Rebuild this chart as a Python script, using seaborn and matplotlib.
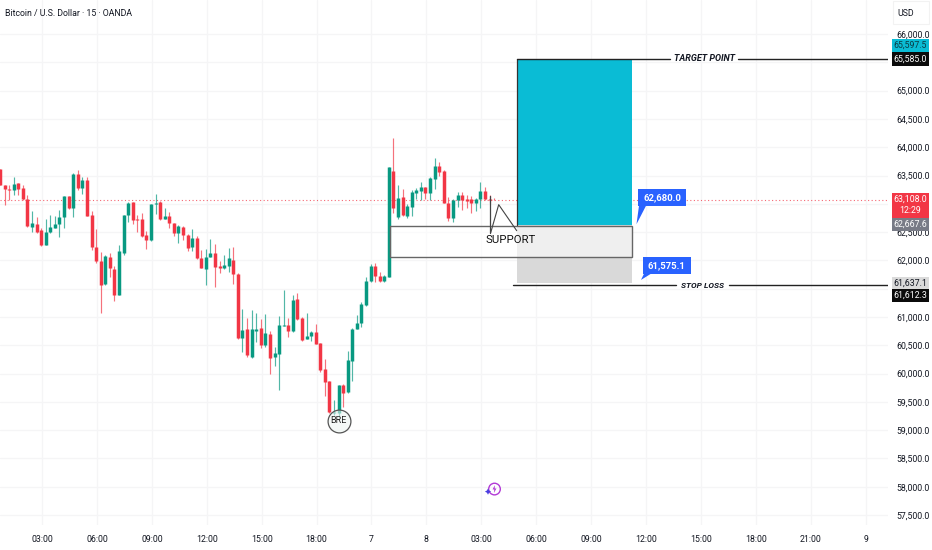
import numpy as np
import pandas as pd
import matplotlib
matplotlib.use("Agg")
import matplotlib.pyplot as plt
from matplotlib.patches import Rectangle, Polygon
import seaborn as sns

opens = [63609,63332,63261,63244,63361,63273,63079,62596,62643,62537,62272,62502,62578,62643,62773,63144,62920,63526,63273,63420,62796,62231,61995,61577,62066,61848,61394,62137,62796,63032,62731,62737,62443,62360,63002,63038,62731,62784,62655,62484,62596,62449,62231,62402,62042,61854,62054,62137,61901,61866,61901,62007,61760,
60635,60782,60299,60758,60799,60505,60699,60299,60340,60847,60858,60752,61324,60982,60611,60664,60735,60534,60075,59863,59310,59310,59804,59675,60228,60788,60888,61212,61630,61901,61724,61642,
61713,63586,62761,63114,62785,62950,63197,63232,63291,63197,63438,63668,63586,63020,62755,63067,63162,63079,63079,63008,63079,63232,63091,63091]
highs = [63609,63332,63332,63467,63373,63332,63155,62873,62761,62566,62731,62802,62784,62890,63138,63144,63550,63597,63479,63467,62879,62555,62154,62095,62125,61901,62272,62802,63032,63032,62802,62831,62525,62996,63173,63049,62920,62861,62667,62619,62608,62466,62549,62431,62184,62195,62372,62290,61995,62089,62225,62243,61771,
61135,60976,61123,61064,60958,61047,60758,60464,61017,61477,60976,61388,61430,60994,61064,60758,60876,60546,60252,59875,59533,59792,59816,60399,60799,61035,61271,61712,61936,61948,61801,61742,
63656,64157,63332,63256,62997,63244,63273,63391,63303,63468,63803,63745,63597,63126,63079,63215,63215,63156,63138,63097,63391,63303,63156,63108]
lows = [63332,62979,63067,63155,63155,63067,62596,62508,62490,62254,62272,62490,62566,62407,62566,62908,62761,63244,63173,62784,62184,61960,61065,61565,61713,61289,61389,62095,62684,62637,62508,62419,62207,62349,62820,62714,62725,62566,62431,62301,62360,62172,62166,62019,61860,61565,62054,61524,61783,61854,61801,61583,60611,
60387,60287,60281,60564,60458,60464,59993,60134,59710,60841,60640,60741,60947,60581,60611,60581,60517,60034,59604,59298,59268,59239,59416,59663,59875,60782,60829,61200,61624,61624,61624,61624,
61713,62844,62726,62785,62755,62785,63079,63067,63079,63067,63256,63491,63008,62702,62673,62938,62891,62920,62844,62879,62920,63067,63008,63067]
closes = [63332,63261,63244,63350,63261,63079,62608,62655,62508,62272,62508,62584,62643,62761,63138,62920,63526,63273,63420,62784,62231,61995,61565,62084,61860,61389,62166,62796,63020,62714,62720,62431,62360,62990,63020,62725,62778,62655,62484,62608,62449,62213,62390,62036,61866,62066,62125,61889,61866,61913,62036,61754,60623,
60770,60328,60788,60794,60505,60711,60275,60358,60858,60864,60752,61300,60958,60593,60670,60735,60523,60063,59845,59315,59327,59792,59663,60240,60788,60888,61229,61630,61901,61724,61642,61724,
63656,62920,63097,62802,62961,63203,63244,63291,63197,63462,63668,63568,63020,62743,63067,63162,63067,63056,63020,63079,63232,63079,63073,63079]

x_tick_pos = [9.2 + 12 * k for k in range(16)]
x_tick_labels = ["03:00","06:00","09:00","12:00","15:00","18:00","7","8","03:00","06:00","09:00","12:00","15:00","18:00","21:00","9"]
y_ticks = [57500 + 500 * k for k in range(18)]
y_hidden = [61500, 63000, 65500]   # covered by price tags in the reference

target_price, entry_price, stop_fill, stop_price = 65560, 62625, 61601, 61565
support_top, support_bottom = 62613, 62065
last_line = 63070

UP, DOWN = "#089981", "#F23645"
FONT = ["Roboto", "DejaVu Sans"]

sns.set_theme(style="white")
plt.rcParams["font.family"] = FONT

n = len(opens)
idx = np.arange(n)
o, h, l, c = map(np.array, (opens, highs, lows, closes))
direction = np.where(c >= o, "up", "down")
wicks = pd.DataFrame({"i": np.tile(idx, 2), "p": np.r_[l, h], "d": np.tile(direction, 2)})
bodies = pd.DataFrame({"i": np.tile(idx, 2), "p": np.r_[o, c], "d": np.tile(direction, 2)})
palette = {"up": UP, "down": DOWN}

W, H = 932, 550
fig = plt.figure(figsize=(W / 100, H / 100), dpi=100, facecolor="white")
ax = fig.add_axes([0, 25 / H, 888 / W, 525 / H], facecolor="white")

for frame, lw, alpha in ((wicks, 0.85, 0.7), (bodies, 2.5, 1.0)):
    sns.lineplot(data=frame, x="i", y="p", hue="d", units="i", estimator=None, palette=palette,
                 linewidth=lw, alpha=alpha, legend=False, ax=ax, sort=False,
                 solid_capstyle="butt", zorder=3)

PX = 4.575               # pixels per bar
ax.set_xlim(0, 888 / PX)
ax.set_ylim(57325, 66601)
ax.set_xlabel("")
ax.set_ylabel("")
ax.set_xticks(x_tick_pos, x_tick_labels)
ax.set_yticks(y_ticks, ["" if v in y_hidden else f"{v:,.1f}" for v in y_ticks])
ax.yaxis.tick_right()
ax.tick_params(axis="x", length=0, pad=7.5, labelsize=6.3, colors="#131722")
ax.tick_params(axis="y", length=0, pad=5.8, labelsize=6.3, colors="#131722")
ax.grid(True, color="#f5f5f6", linewidth=0.9, zorder=0)
ax.set_axisbelow(True)
for s in ax.spines.values():
    s.set_visible(False)

def bx(px):
    return px / PX

ax.plot([0, 888 / PX], [last_line, last_line], color="#F23645", lw=0.8, ls=(0, (1, 2.2)), alpha=.75, zorder=2)

# position block
ax.add_patch(Rectangle((bx(517), entry_price), bx(115), target_price - entry_price, fc="#0ABCD5", ec="none", zorder=4))
ax.add_patch(Rectangle((bx(517), stop_fill), bx(115), entry_price - stop_fill, fc="#D9D9D9", ec="none", zorder=4))
ax.add_patch(Rectangle((bx(390), support_bottom), bx(242), support_top - support_bottom,
                       fc=(1, 1, 1, 0.6), ec="#666666", lw=1.0, zorder=5))
ax.plot([bx(517), bx(517)], [entry_price, target_price], color="#333333", lw=0.9, zorder=6)

line_kw = dict(color="#222222", lw=1.0, zorder=6)
ax.plot([bx(517), bx(670)], [target_price] * 2, **line_kw)
ax.plot([bx(738), 888 / PX], [target_price] * 2, **line_kw)
ax.plot([bx(513), bx(676)], [stop_price] * 2, **line_kw)
ax.plot([bx(729), 888 / PX], [stop_price] * 2, **line_kw)
ax.text(bx(704.5), target_price, "TARGET POINT", ha="center", va="center", fontsize=6.5,
        fontweight="bold", fontstyle="italic", color="#131722", zorder=7)
ax.text(bx(702.5), stop_price, "STOP LOSS", ha="center", va="center", fontsize=6,
        fontweight="bold", fontstyle="italic", color="#131722", zorder=7)

# support callout
ax.plot([bx(489.5), bx(489.5)], [63130, 62490], color="#444444", lw=0.9, zorder=6)
ax.plot([bx(490.7), bx(498.7), bx(516.7)], [62490, 62985, 62525], color="#444444", lw=0.8, zorder=6)
ax.text(bx(510.5), 62360, "SUPPORT", ha="center", va="center", fontsize=8.2, color="#111111", zorder=7)

# price callouts
for txt, px0, px1, pr, tail in (("62,680.0", 638, 686, 63105, (bx(636.5), 62640)),
                                ("61,575.1", 643, 690.5, 61905, (bx(641), 61655))):
    ax.add_patch(Rectangle((bx(px0), pr - 150), bx(px1 - px0), 300, fc="#2962FF", ec="none", zorder=8))
    ax.text(bx((px0 + px1) / 2), pr, txt, ha="center", va="center", fontsize=6.8, fontweight="bold",
            color="white", zorder=9)
    ax.add_patch(Polygon([(bx(px0 + 1), pr - 140), (bx(px0 + 8), pr - 140), tail], fc="#2962FF", ec="none", zorder=8))

# BRE
ax.scatter([bx(338.8)], [59165], s=270, fc=(0.93, 0.96, 0.95, 0.55), ec="#555555", lw=0.9, zorder=7)
ax.text(bx(338.6), 59165, "BRE", ha="center", va="center", fontsize=6.5, color="#222222", zorder=8)

# publish icon
ax.scatter([bx(494.5)], [57960], s=70, fc="none", ec="#B23AD6", lw=1.0, zorder=7)
ax.scatter([bx(494.5)], [57960], s=32, marker=[(0.1, 1), (-0.5, -0.1), (-0.05, -0.1), (-0.15, -1), (0.5, 0.15), (0.05, 0.15)],
           fc="#B23AD6", ec="none", zorder=8)
ax.scatter([bx(488)], [57915], s=20, marker=(4, 1, 0), fc="#4B3FE0", ec="none", zorder=8)

# price-scale tags
def tag(y0, y1, color):
    fig.add_artist(Rectangle((892 / W, 1 - y1 / H), 37 / W, (y1 - y0) / H, transform=fig.transFigure, fc=color, ec="none"))

def tag_text(y, s, color):
    fig.text(910.5 / W, 1 - y / H, s, ha="center", va="center", fontsize=6.3, color=color, zorder=5)

for y0, y1, col, rows in ((39, 52, "#0ABCD5", [(45.5, "65,597.5", "#0b3b45")]),
                          (52, 65.5, "#0B0B0B", [(59, "65,585.0", "white")]),
                          (193, 218, "#F23645", [(199.5, "63,108.0", "white"), (211, "12:29", "white")]),
                          (218, 231, "#787B86", [(224.5, "62,667.6", "white")]),
                          (277, 289, "#DADADA", [(283, "61,637.1", "#131722")]),
                          (289, 301.5, "#0B0B0B", [(295, "61,612.3", "white")])):
    tag(y0, y1, col)
    for y, s, tc in rows:
        tag_text(y, s, tc)

fig.add_artist(Rectangle((893 / W, 1 - 24 / H), 36 / W, 23 / H, transform=fig.transFigure, fc="white", ec="#f2f2f2", lw=0.8))
fig.text(905.5 / W, 1 - 14 / H, "USD", ha="center", va="center", fontsize=6.3, color="#131722", zorder=5)
fig.text(5 / W, 1 - 13.5 / H, "Bitcoin / U.S. Dollar · 15 · OANDA", ha="left", va="center", fontsize=6.3,
         color="#131722", zorder=5)

fig.savefig("out.png", dpi=100, facecolor="white")
